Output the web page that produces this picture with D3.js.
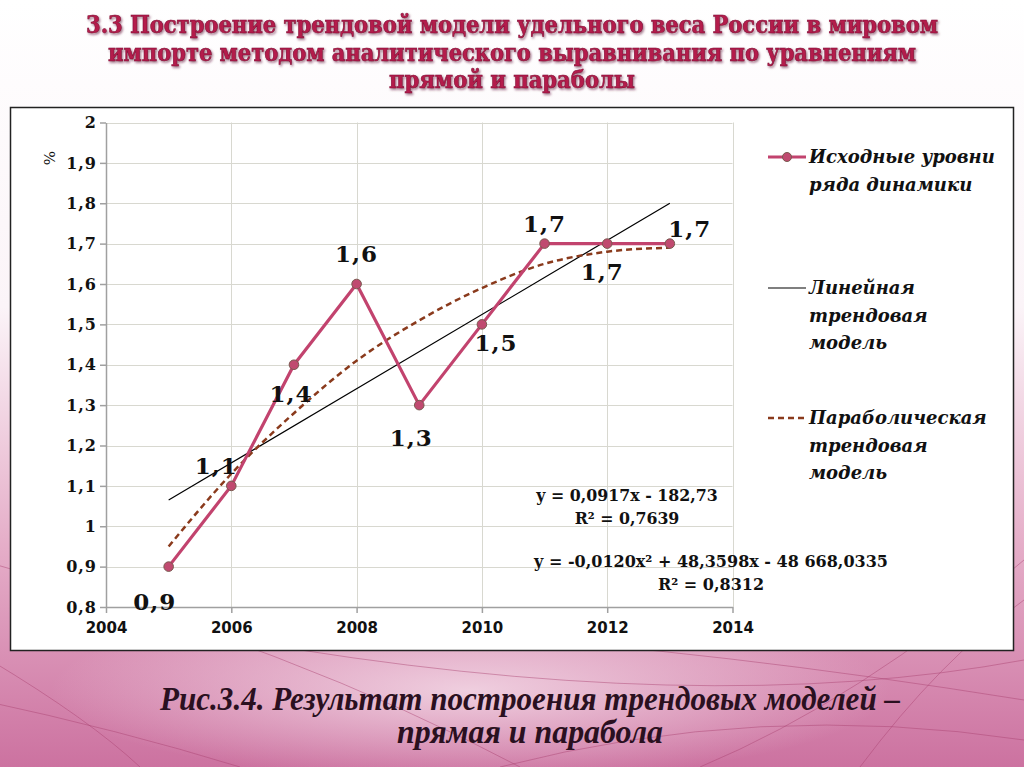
<!DOCTYPE html>
<html><head><meta charset="utf-8">
<script src="https://cdn.jsdelivr.net/npm/d3@7"></script>
<style>html,body{margin:0;padding:0;background:#fff;}svg{display:block;}</style>
</head><body>
<svg id="c" width="1024" height="767"></svg>
<script>
// ---- data ----
const years = [2005, 2006, 2007, 2008, 2009, 2010, 2011, 2012, 2013];
const values = [0.9, 1.1, 1.4, 1.6, 1.3, 1.5, 1.7, 1.7, 1.7];
const valueLabels = ["0,9", "1,1", "1,4", "1,6", "1,3", "1,5", "1,7", "1,7", "1,7"];
const linearYears = [2005, 2013];
const linearValues = [1.065, 1.80];
const parabolaValues = [0.95, 1.13, 1.28, 1.41, 1.51, 1.59, 1.65, 1.68, 1.69];
const xTicks = [2004, 2006, 2008, 2010, 2012, 2014];
const yTicks = [0.8, 0.9, 1.0, 1.1, 1.2, 1.3, 1.4, 1.5, 1.6, 1.7, 1.8, 1.9, 2.0];
const yTickLabels = ["0,8", "0,9", "1", "1,1", "1,2", "1,3", "1,4", "1,5", "1,6", "1,7", "1,8", "1,9", "2"];
const titleLines = [
  "3.3 Построение трендовой модели удельного веса России в мировом",
  "импорте методом аналитического выравнивания по уравнениям",
  "прямой и параболы"
];
const legendItems = [
  ["Исходные уровни", "ряда динамики"],
  ["Линейная", "трендовая", "модель"],
  ["Параболическая", "трендовая", "модель"]
];
const equations = [
  ["y = 0,0917x - 182,73", "R² = 0,7639"],
  ["y = -0,0120x² + 48,3598x - 48 668,0335", "R² = 0,8312"]
];
const captionLines = ["Рис.3.4. Результат построения трендовых моделей –", "прямая и парабола"];

// ---- layout ----
const labelOffsets = [[-14,43],[-15,-12],[-3,37],[0,-22],[-8,41],[14,27],[0,-12],[-5,36],[20,-7]];
const svg = d3.select("#c");
const defs = svg.append("defs");

const bg = defs.append("linearGradient").attr("id","bg").attr("x1",0).attr("y1",0).attr("x2",0).attr("y2",1);
bg.append("stop").attr("offset","0%").attr("stop-color","#ffffff");
bg.append("stop").attr("offset","40%").attr("stop-color","#fbf4f8");
bg.append("stop").attr("offset","70%").attr("stop-color","#e6b0ca");
bg.append("stop").attr("offset","100%").attr("stop-color","#cc72a0");
const rg = defs.append("radialGradient").attr("id","hl").attr("cx",0.5).attr("cy",0.5).attr("r",0.5);
rg.append("stop").attr("offset","0%").attr("stop-color","#f2d6e4").attr("stop-opacity",0.9);
rg.append("stop").attr("offset","100%").attr("stop-color","#f2d6e4").attr("stop-opacity",0);
const sh = defs.append("filter").attr("id","sh").attr("filterUnits","userSpaceOnUse")
  .attr("x",0).attr("y",0).attr("width",1024).attr("height",106);
sh.append("feDropShadow").attr("dx",1.2).attr("dy",1.6).attr("stdDeviation",0.8).attr("flood-color","#5a1030").attr("flood-opacity",0.6);

svg.append("rect").attr("width",1024).attr("height",767).attr("fill","url(#bg)");
svg.append("ellipse").attr("cx",470).attr("cy",690).attr("rx",420).attr("ry",90).attr("fill","url(#hl)");
// decorative curves
const curves = [
  "M-20,560 Q300,650 520,767",
  "M-20,700 Q120,730 240,767",
  "M40,640 Q400,600 1024,700",
  "M240,640 Q700,720 1024,660",
  "M1024,560 Q860,700 700,767",
  "M1024,600 Q940,660 860,767",
  "M-10,660 Q90,720 140,767",
  "M500,767 Q760,700 1024,740"
];
svg.append("g").selectAll("path").data(curves).join("path")
  .attr("d", d=>d).attr("fill","none").attr("stroke","#a8406f").attr("stroke-opacity",0.45).attr("stroke-width",1);

// title
const titleLen = [852,808,246];
svg.append("g").attr("filter","url(#sh)").selectAll("text").data(titleLines).join("text")
  .attr("x",512).attr("y",(d,i)=>33+i*27.5).attr("text-anchor","middle")
  .attr("font-family","DejaVu Serif Condensed, DejaVu Serif").attr("font-stretch","condensed")
  .attr("font-weight","bold").attr("font-size",24).attr("fill","#b41c4c")
  .attr("stroke","#7a0d30").attr("stroke-width",0.5)
  .attr("textLength",(d,i)=>titleLen[i]).attr("lengthAdjust","spacingAndGlyphs")
  .text(d=>d);

// chart box
svg.append("rect").attr("x",10.5).attr("y",107.5).attr("width",1003).attr("height",543)
  .attr("fill","#fff").attr("stroke","#222").attr("stroke-width",1.5);

const x = d3.scaleLinear().domain([2004,2014]).range([106,732.5]);
const y = d3.scaleLinear().domain([0.8,2.0]).range([607,122.5]);

// gridlines
const grid = svg.append("g").attr("stroke","#d8d8d0").attr("stroke-width",1);
grid.selectAll("line.h").data(yTicks.slice(1)).join("line").attr("class","h")
  .attr("x1",x(2004)).attr("x2",x(2014)).attr("y1",d=>Math.round(y(d))+0.5).attr("y2",d=>Math.round(y(d))+0.5);
grid.selectAll("line.v").data(xTicks.slice(1)).join("line").attr("class","v")
  .attr("y1",y(0.8)).attr("y2",y(2.0)).attr("x1",d=>Math.round(x(d))+0.5).attr("x2",d=>Math.round(x(d))+0.5);

// axes
const xAxis = svg.append("g").attr("transform",`translate(0,${y(0.8)})`)
  .call(d3.axisBottom(x).tickValues(xTicks).tickFormat(d3.format("d")).tickSize(6).tickSizeOuter(0));
xAxis.select(".domain").attr("stroke","#a0a0a0").attr("stroke-width",1.5);
xAxis.selectAll(".tick line").attr("stroke","#a0a0a0").attr("stroke-width",1.5);
xAxis.selectAll("text").attr("font-family","DejaVu Sans").attr("font-weight","bold").attr("font-size",15)
  .attr("fill","#111").attr("dy","1.15em");

const yAxis = svg.append("g").attr("transform",`translate(${x(2004)},0)`)
  .call(d3.axisLeft(y).tickValues(yTicks).tickFormat((d,i)=>yTickLabels[i]).tickSize(6).tickSizeOuter(0));
yAxis.select(".domain").attr("stroke","#a0a0a0").attr("stroke-width",1.5);
yAxis.selectAll(".tick line").attr("stroke","#a0a0a0").attr("stroke-width",1.5);
yAxis.selectAll("text").attr("font-family","DejaVu Serif").attr("font-weight","bold").attr("font-size",16)
  .attr("letter-spacing",1).attr("fill","#111").attr("x",-9);

svg.append("text").attr("transform","translate(55,158) rotate(-90)").attr("text-anchor","middle")
  .attr("font-family","DejaVu Serif").attr("font-size",15).attr("fill","#111").text("%");

// linear trend
svg.append("path").datum(linearYears.map((d,i)=>[d,linearValues[i]]))
  .attr("d", d3.line().x(d=>x(d[0])).y(d=>y(d[1])))
  .attr("fill","none").attr("stroke","#000").attr("stroke-width",1.2);

// parabolic trend
svg.append("path").datum(years.map((d,i)=>[d,parabolaValues[i]]))
  .attr("d", d3.line().curve(d3.curveMonotoneX).x(d=>x(d[0])).y(d=>y(d[1])))
  .attr("fill","none").attr("stroke","#8a3a1c").attr("stroke-width",2.5).attr("stroke-dasharray","6,4");

// main series
const pts = years.map((d,i)=>[d,values[i]]);
svg.append("path").datum(pts).attr("d", d3.line().x(d=>x(d[0])).y(d=>y(d[1])))
  .attr("fill","none").attr("stroke","#c2436e").attr("stroke-width",3.2).attr("stroke-linejoin","round");
svg.append("g").selectAll("circle").data(pts).join("circle")
  .attr("cx",d=>x(d[0])).attr("cy",d=>y(d[1])).attr("r",4.8)
  .attr("fill","#c04a70").attr("stroke","#7a5a50").attr("stroke-width",1);

// data labels
svg.append("g").selectAll("text").data(pts).join("text")
  .attr("x",(d,i)=>x(d[0])+labelOffsets[i][0]).attr("y",(d,i)=>y(d[1])+labelOffsets[i][1])
  .attr("text-anchor","middle").attr("font-family","DejaVu Serif").attr("font-weight","bold")
  .attr("font-size",23).attr("letter-spacing",1).attr("fill","#111").text((d,i)=>valueLabels[i]);

// equations
const eqPos = [[627,501],[711,567]];
const eqSize = [15.8, 16];
equations.forEach((eq,k)=>{
  svg.append("g").selectAll("text").data(eq).join("text")
    .attr("x",eqPos[k][0]).attr("y",(d,i)=>eqPos[k][1]+i*22.5).attr("text-anchor","middle")
    .attr("font-family","DejaVu Serif").attr("font-weight","bold").attr("font-size",eqSize[k])
    .attr("fill","#111").text(d=>d);
});

// legend
const legY = [157, 288, 418];
const lg = svg.append("g");
lg.append("line").attr("x1",768).attr("x2",806).attr("y1",legY[0]).attr("y2",legY[0]).attr("stroke","#c2436e").attr("stroke-width",3.2);
lg.append("circle").attr("cx",787).attr("cy",legY[0]).attr("r",4.5).attr("fill","#c04a70").attr("stroke","#7a5a50");
lg.append("line").attr("x1",768).attr("x2",806).attr("y1",legY[1]).attr("y2",legY[1]).attr("stroke","#000").attr("stroke-width",1.2);
lg.append("line").attr("x1",768).attr("x2",806).attr("y1",legY[2]).attr("y2",legY[2]).attr("stroke","#8a3a1c").attr("stroke-width",2.5).attr("stroke-dasharray","6,4");
legendItems.forEach((lines,k)=>{
  lg.append("g").selectAll("text").data(lines).join("text")
    .attr("x",809).attr("y",(d,i)=>legY[k]+6+i*27.5)
    .attr("font-family","DejaVu Serif").attr("font-style","italic").attr("font-weight","bold")
    .attr("font-size",18).attr("fill","#111").text(d=>d);
});

// caption
svg.append("g").selectAll("text").data(captionLines).join("text")
  .attr("x",530).attr("y",(d,i)=>710+i*33).attr("text-anchor","middle")
  .attr("font-family","Liberation Serif").attr("font-style","italic").attr("font-weight","bold")
  .attr("font-size",33).attr("fill","#2a1020")
  .attr("textLength",(d,i)=>[740,266][i]).attr("lengthAdjust","spacingAndGlyphs")
  .text(d=>d);
</script>
</body></html>
